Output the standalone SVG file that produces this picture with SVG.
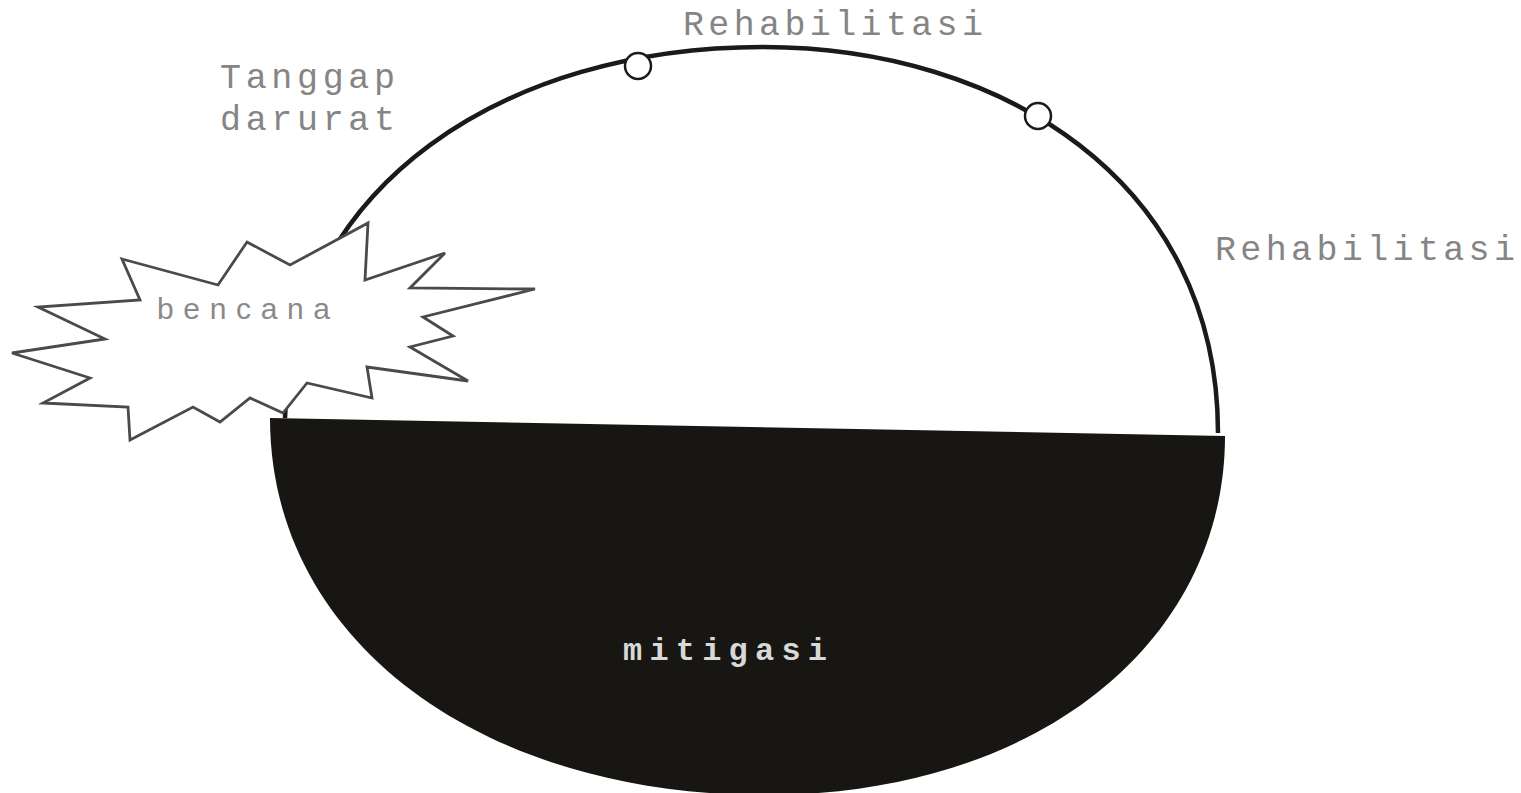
<svg xmlns="http://www.w3.org/2000/svg" width="1521" height="793" viewBox="0 0 1521 793">
<style>
.lbl{font-family:"Liberation Mono","Courier New",monospace;fill:#858585;font-size:35px}
.arc{fill:none;stroke:#1a1a1a;stroke-width:4.5}
.dot{fill:#fff;stroke:#1a1a1a;stroke-width:2.5}
.burst{fill:#fff;stroke:#4a4a4a;stroke-width:2.8;stroke-linejoin:miter}
</style>
<rect width="1521" height="793" fill="#fff"/>
<g id="cycle">
<path id="lower-half" d="M270,418 L1225,436 C1225,640 1040,795 765,795 C480,795 270,640 270,418 Z" fill="#171612"/>
<path id="upper-arc" class="arc" d="M285,418 C292,185 505,47 763,47 C1000,47 1218,180 1218,433"/>
</g>
<g id="connectors">
<circle id="point-1" class="dot" cx="638" cy="66" r="13"/>
<circle id="point-2" class="dot" cx="1038" cy="116" r="13"/>
</g>
<g id="bencana">
<polygon class="burst" points="122,259 218,285 247,242 290,265 368,223 365,280 445,253 410,288 535,289 423,317 453,336 410,347 468,381 367,367 372,398 307,383 283,413 250,398 220,422 193,407 130,440 128,407 43,403 90,378 12,353 105,339 38,307 140,300"/>
<text x="157" y="319" font-family="Liberation Sans, Arial, sans-serif" font-size="30" fill="#8a8a8a" textLength="173" lengthAdjust="spacing">bencana</text>
</g>
<g id="tanggap-darurat">
<text class="lbl" x="220" y="88" textLength="175" lengthAdjust="spacing">Tanggap</text>
<text class="lbl" x="220" y="130" textLength="175" lengthAdjust="spacing">darurat</text>
</g>
<g id="rehabilitasi-top">
<text class="lbl" x="683" y="35" textLength="300" lengthAdjust="spacing">Rehabilitasi</text>
</g>
<g id="rehabilitasi-right">
<text class="lbl" x="1215" y="260" textLength="300" lengthAdjust="spacing">Rehabilitasi</text>
</g>
<g id="mitigasi">
<text x="623" y="660" font-family="Liberation Mono, Courier New, monospace" font-weight="bold" font-size="32" fill="#d8d8d8" textLength="204" lengthAdjust="spacing">mitigasi</text>
</g>
</svg>
